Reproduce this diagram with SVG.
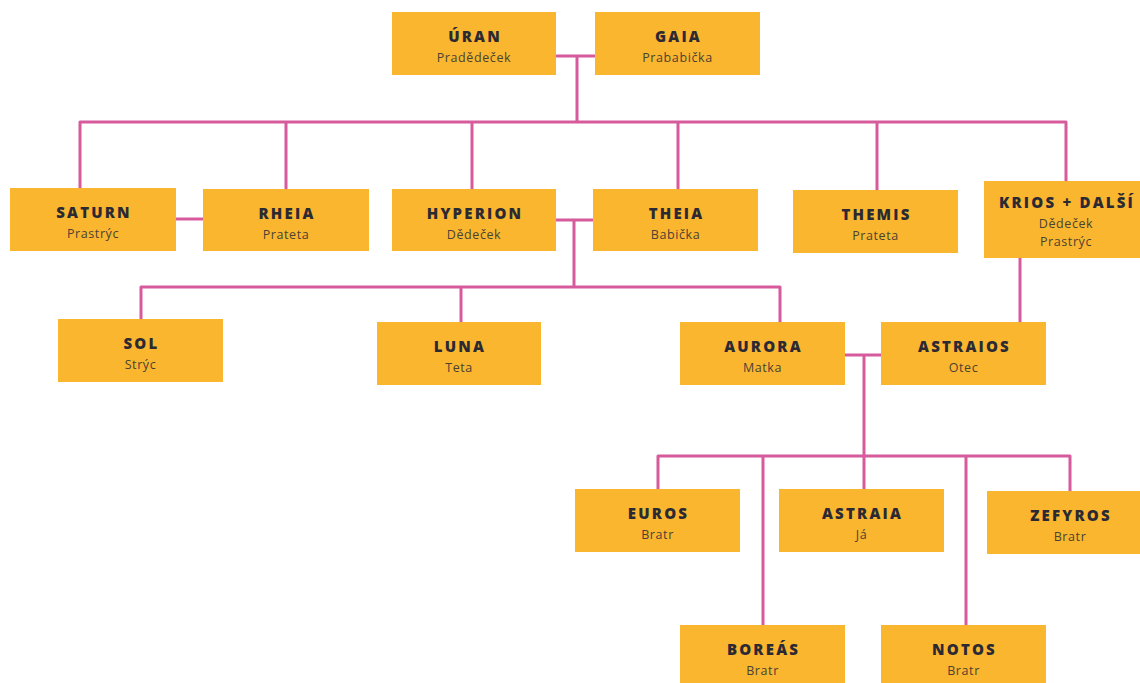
<svg xmlns="http://www.w3.org/2000/svg" width="1140" height="683" viewBox="0 0 1140 683">
<style>
.box{fill:#FBB630;}
.t{font-family:"Open Sans","Liberation Sans",sans-serif;font-weight:800;font-size:15px;letter-spacing:2.2px;fill:#2b2a33;text-anchor:middle;}
.s{font-family:"Open Sans","Liberation Sans",sans-serif;font-size:12.5px;letter-spacing:0.6px;fill:#4a4232;text-anchor:middle;}
.c{fill:none;stroke:#D65A9C;stroke-width:3;stroke-linejoin:round;stroke-linecap:butt;}
</style>
<rect width="1140" height="683" fill="#ffffff"/>
<g id="connectors" class="c">
<path d="M556,56 H595"/>
<path d="M577,56 V122"/>
<path d="M80,188 V122 H1066 V181"/>
<path d="M286,122 V189"/>
<path d="M472,122 V189"/>
<path d="M678,122 V189"/>
<path d="M877,122 V190"/>
<path d="M176,219 H203"/>
<path d="M556,220 H593"/>
<path d="M574,220 V287"/>
<path d="M141,319 V287 H780 V322"/>
<path d="M461,287 V322"/>
<path d="M1020,258 V322"/>
<path d="M845,355 H881"/>
<path d="M864,355 V489"/>
<path d="M658,489 V456 H1070 V491"/>
<path d="M763,456 V625"/>
<path d="M966,456 V625"/>
</g>
<g id="uran"><rect class="box" x="392" y="12" width="164" height="63"/><text class="t" x="475" y="42">ÚRAN</text><text class="s" x="474" y="62">Pradědeček</text></g>
<g id="gaia"><rect class="box" x="595" y="12" width="165" height="63"/><text class="t" x="678.5" y="42">GAIA</text><text class="s" x="677.5" y="62">Prababička</text></g>
<g id="saturn"><rect class="box" x="10" y="188" width="166" height="63"/><text class="t" x="94" y="218">SATURN</text><text class="s" x="93" y="238">Prastrýc</text></g>
<g id="rheia"><rect class="box" x="203" y="189" width="166" height="62"/><text class="t" x="287" y="219">RHEIA</text><text class="s" x="286" y="239">Prateta</text></g>
<g id="hyperion"><rect class="box" x="392" y="189" width="164" height="62"/><text class="t" x="475" y="219">HYPERION</text><text class="s" x="474" y="239">Dědeček</text></g>
<g id="theia"><rect class="box" x="593" y="189" width="165" height="62"/><text class="t" x="676.5" y="219">THEIA</text><text class="s" x="675.5" y="239">Babička</text></g>
<g id="themis"><rect class="box" x="793" y="190" width="165" height="63"/><text class="t" x="876.5" y="220">THEMIS</text><text class="s" x="875.5" y="240">Prateta</text></g>
<g id="krios"><rect class="box" x="984" y="181" width="164" height="77"/><text class="t" x="1067" y="208">KRIOS + DALŠÍ</text><text class="s" x="1066" y="228">Dědeček</text><text class="s" x="1066" y="246">Prastrýc</text></g>
<g id="sol"><rect class="box" x="58" y="319" width="165" height="63"/><text class="t" x="141.5" y="349">SOL</text><text class="s" x="140.5" y="369">Strýc</text></g>
<g id="luna"><rect class="box" x="377" y="322" width="164" height="63"/><text class="t" x="460" y="352">LUNA</text><text class="s" x="459" y="372">Teta</text></g>
<g id="aurora"><rect class="box" x="680" y="322" width="165" height="63"/><text class="t" x="763.5" y="352">AURORA</text><text class="s" x="762.5" y="372">Matka</text></g>
<g id="astraios"><rect class="box" x="881" y="322" width="165" height="63"/><text class="t" x="964.5" y="352">ASTRAIOS</text><text class="s" x="963.5" y="372">Otec</text></g>
<g id="euros"><rect class="box" x="575" y="489" width="165" height="63"/><text class="t" x="658.5" y="519">EUROS</text><text class="s" x="657.5" y="539">Bratr</text></g>
<g id="astraia"><rect class="box" x="779" y="489" width="165" height="63"/><text class="t" x="862.5" y="519">ASTRAIA</text><text class="s" x="861.5" y="539">Já</text></g>
<g id="zefyros"><rect class="box" x="987" y="491" width="165" height="63"/><text class="t" x="1071" y="521">ZEFYROS</text><text class="s" x="1070" y="541">Bratr</text></g>
<g id="boreas"><rect class="box" x="680" y="625" width="165" height="63"/><text class="t" x="763.5" y="655">BOREÁS</text><text class="s" x="762.5" y="675">Bratr</text></g>
<g id="notos"><rect class="box" x="881" y="625" width="165" height="63"/><text class="t" x="964.5" y="655">NOTOS</text><text class="s" x="963.5" y="675">Bratr</text></g>
</svg>
